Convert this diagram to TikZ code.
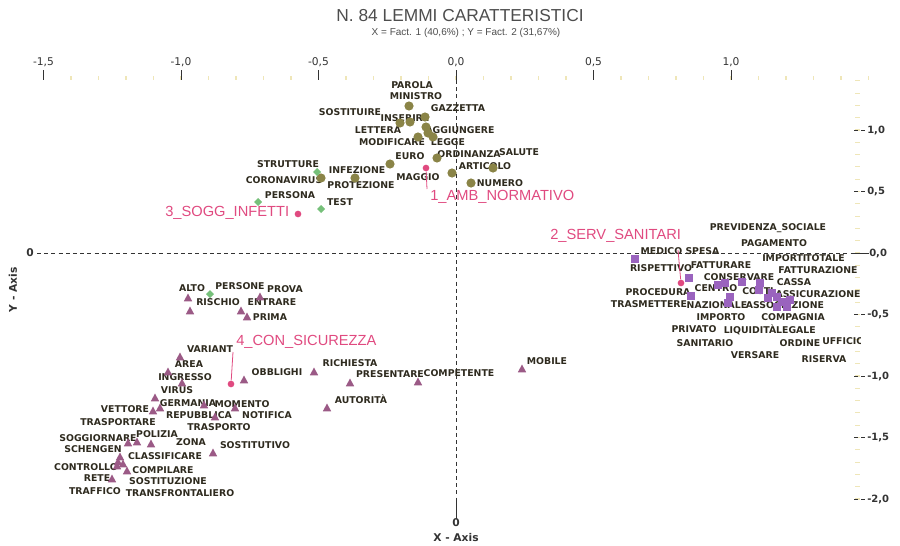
\documentclass[tikz,border=0pt]{standalone}
\usepackage{fontspec}
\setmainfont{DejaVu Sans}
\newfontfamily\dvsans{DejaVu Sans}
\newfontfamily\lsans{Liberation Sans}
\definecolor{olivec}{HTML}{8A8447}
\definecolor{tric}{HTML}{9B5A86}
\definecolor{sqc}{HTML}{9A63BE}
\definecolor{dmc}{HTML}{76C07A}
\definecolor{pinkc}{HTML}{E04A80}
\definecolor{labcol}{HTML}{2E2A1E}
\definecolor{axcol}{HTML}{333333}
\definecolor{minorc}{HTML}{EFE6B8}
\definecolor{titlec}{HTML}{4D4D4D}
\tikzset{
  lab/.style={font=\dvsans\bfseries\fontsize{7}{8}\selectfont, text=labcol, inner sep=0pt},
  clu/.style={font=\lsans\fontsize{11}{12}\selectfont, text=pinkc, inner sep=0pt, anchor=west},
  axnum/.style={font=\dvsans\fontsize{8}{9}\selectfont, text=axcol, inner sep=0pt},
  axnumr/.style={font=\dvsans\bfseries\fontsize{7.5}{9}\selectfont, text=axcol, inner sep=0pt, anchor=west},
  axname/.style={font=\dvsans\bfseries\fontsize{8}{9}\selectfont, text=axcol, inner sep=0pt},
  guide/.style={axcol, line width=0.6pt, dash pattern=on 3pt off 2.4pt},
  link/.style={pinkc, line width=0.6pt},
}
\begin{document}
\begin{tikzpicture}[x=0.75pt,y=-0.75pt]
\useasboundingbox (0,0) rectangle (900,546);

% title block
\node[font=\lsans\fontsize{13}{15}\selectfont, text=titlec, inner sep=0pt] (title) at (460,16) {N. 84 LEMMI CARATTERISTICI};
\node[font=\lsans\fontsize{7.5}{9}\selectfont, text=titlec, inner sep=0pt] (subtitle) at (466,33) {X = Fact. 1 (40,6\%) ; Y = Fact. 2 (31,67\%)};

% top scale: minor ticks every 0.1, major every 0.5
\foreach \k in {-15,...,15} \draw[minorc, line width=0.8pt] ({456+\k*27.5},76) -- ({456+\k*27.5},80);
\foreach \v/\t in {-1.5/{-1,5},-1/{-1,0},-0.5/{-0,5},0/{0,0},0.5/{0,5},1/{1,0}} {
  \draw[axcol, line width=0.6pt] ({456+\v*275},70) -- ({456+\v*275},80);
  \node[axnum] at ({456+\v*275},62) {\t};
}

% right scale
\foreach \k in {-20,...,14} \draw[minorc, line width=0.8pt] (855,{253-\k*12.3}) -- (860,{253-\k*12.3});
\foreach \v/\t in {1/{1,0},0.5/{0,5},-0.5/{-0,5},-1/{-1,0},-1.5/{-1,5},-2/{-2,0}} {
  \draw[guide] (854,{253-\v*123}) -- (866,{253-\v*123});
  \node[axnumr] at (867,{253-\v*123}) {\t};
}
\node[axnumr] (rzero) at (869,253) {0,0};

% origin guides
\node[axname, font=\dvsans\bfseries\fontsize{8}{9}\selectfont] (yzero) at (30,253) {0};
\node[axname] (xzero) at (456,523) {0};
\node[axname] (xaxis) at (456,538) {X - Axis};
\node[axname, rotate=90] (yaxis) at (13,290) {Y - Axis};
\draw[guide] (yzero.east) ++(3,0) -- (852,253);
\draw[axcol, line width=0.6pt] (852,253) -- (rzero.west);
\draw[guide] (456,80) -- (456,502);
\draw[axcol, line width=0.6pt] (456,502) -- (xzero.north);

% ---- labels: normative lemmas
\node[lab] (parola) at (412,85) {PAROLA};
\node[lab] (ministro) at (416,96) {MINISTRO};
\node[lab] (gazzetta) at (458,108) {GAZZETTA};
\node[lab] (sostituire) at (350,112) {SOSTITUIRE};
\node[lab] (inserire) at (405,118) {INSERIRE};
\node[lab] (lettera) at (378,130) {LETTERA};
\node[lab] (aggiungere) at (460,130) {AGGIUNGERE};
\node[lab] (modificare) at (392,142) {MODIFICARE};
\node[lab] (legge) at (448,142) {LEGGE};
\node[lab] (euro) at (410,156) {EURO};
\node[lab] (ordinanza) at (469,154) {ORDINANZA};
\node[lab] (salute) at (519,152) {SALUTE};
\node[lab] (articolo) at (485,166) {ARTICOLO};
\node[lab] (maggio) at (418,177) {MAGGIO};
\node[lab] (numero) at (500,183) {NUMERO};
\node[lab] (strutture) at (288,164) {STRUTTURE};
\node[lab] (infezione) at (357,170) {INFEZIONE};
\node[lab] (coronavirus) at (284,180) {CORONAVIRUS};
\node[lab] (protezione) at (361,185) {PROTEZIONE};
\node[lab] (persona) at (290,195) {PERSONA};
\node[lab] (test) at (340,202) {TEST};

% ---- labels: health services
\node[lab] (previdenza) at (768,228) {PREVIDENZA\_SOCIALE};
\node[lab] (pagamento) at (774,243) {PAGAMENTO};
\node[lab] (medico) at (680,251) {MEDICO SPESA};
\node[lab, anchor=west] (importi) at (762,258) {IMPORTI};
\node[lab, anchor=west] (totale) at (805,258) {TOTALE};
\node[lab] (rispettivo) at (661,268) {RISPETTIVO};
\node[lab] (fatturare) at (721,265) {FATTURARE};
\node[lab] (fatturazione) at (818,270) {FATTURAZIONE};
\node[lab] (conservare) at (739,277) {CONSERVARE};
\node[lab] (cassa) at (794,282) {CASSA};
\node[lab] (procedura) at (658,292) {PROCEDURA};
\node[lab] (centro) at (716,288) {CENTRO};
\node[lab] (costi) at (758,291) {COSTI};
\node[lab] (assicurazione) at (818,294) {ASSICURAZIONE};
\node[lab] (trasmettere) at (649,304) {TRASMETTERE};
\node[lab] (nazionale) at (717,305) {NAZIONALE};
\node[lab] (associazione) at (785,305) {ASSOCIAZIONE};
\node[lab] (importo) at (721,317) {IMPORTO};
\node[lab] (compagnia) at (793,317) {COMPAGNIA};
\node[lab] (privato) at (694,329) {PRIVATO};
\node[lab] (liquidita) at (750,330) {LIQUIDITÀ};
\node[lab] (legale) at (796,330) {LEGALE};
\node[lab] (sanitario) at (705,343) {SANITARIO};
\node[lab] (ordine) at (800,343) {ORDINE};
\begin{scope}
  \clip (815,330) rectangle (860,352);
  \node[lab, anchor=west] (ufficio) at (822,341) {UFFICIO};
\end{scope}
\node[lab] (versare) at (755,355) {VERSARE};
\node[lab] (riserva) at (824,359) {RISERVA};
\node[lab] (mobile) at (547,361) {MOBILE};

% ---- labels: safety and controls
\node[lab] (alto) at (192,288) {ALTO};
\node[lab] (persone) at (240,286) {PERSONE};
\node[lab] (prova) at (285,289) {PROVA};
\node[lab] (rischio) at (218,302) {RISCHIO};
\node[lab] (entrare) at (272,302) {ENTRARE};
\node[lab] (prima) at (270,317) {PRIMA};
\node[lab] (variant) at (210,349) {VARIANT};
\node[lab] (area) at (189,364) {AREA};
\node[lab] (richiesta) at (350,363) {RICHIESTA};
\node[lab] (obblighi) at (277,372) {OBBLIGHI};
\node[lab] (presentare) at (390,374) {PRESENTARE};
\node[lab] (competente) at (459,373) {COMPETENTE};
\node[lab] (ingresso) at (185,377) {INGRESSO};
\node[lab] (virus) at (177,390) {VIRUS};
\node[lab] (autorita) at (361,399) {AUTORITÀ};
\node[lab] (germania) at (188,403) {GERMANIA};
\node[lab] (momento) at (242,404) {MOMENTO};
\node[lab] (vettore) at (125,409) {VETTORE};
\node[lab] (repubblica) at (199,415) {REPUBBLICA};
\node[lab] (notifica) at (267,415) {NOTIFICA};
\node[lab] (trasportare) at (118,422) {TRASPORTARE};
\node[lab] (trasporto) at (219,427) {TRASPORTO};
\node[lab] (polizia) at (157,434) {POLIZIA};
\node[lab] (soggiornare) at (98,438) {SOGGIORNARE};
\node[lab] (zona) at (191,442) {ZONA};
\node[lab] (sostitutivo) at (255,445) {SOSTITUTIVO};
\node[lab] (schengen) at (93,449) {SCHENGEN};
\node[lab] (classificare) at (165,456) {CLASSIFICARE};
\node[lab] (controllo) at (86,467) {CONTROLLO};
\node[lab] (compilare) at (163,470) {COMPILARE};
\node[lab] (rete) at (97,478) {RETE};
\node[lab] (sostituzione) at (168,481) {SOSTITUZIONE};
\node[lab] (traffico) at (95,491) {TRAFFICO};
\node[lab] (transfrontaliero) at (180,493) {TRANSFRONTALIERO};

% ---- markers
\foreach \p in {(409,106),(400,123),(410,122),(425,117),(426,127),(418,137),(428,133),(433,137),
                (390,164),(437,158),(452,173),(493,168),(471,183),(355,178),(321,178)}
  \fill[olivec] \p circle[radius=4.6];
\foreach \p in {(317,172),(258,202),(321,209),(210,294)}
  \fill[dmc] \p +(0,-4) -- +(4,0) -- +(0,4) -- +(-4,0) -- cycle;
\foreach \p in {(635,259),(689,278),(691,296),(718,285),(725,283),(730,297),(728,303),(742,282),
                (760,283),(759,290),(772,293),(777,297),(782,302),(790,300),(787,307),(768,298),(777,307)}
  \fill[sqc] \p +(-4.2,-4.2) rectangle +(4.2,4.2);
\foreach \p in {(188,298),(260,297),(190,311),(241,311),(247,317),(180,357),(168,372),(182,383),
                (244,380),(155,398),(204,405),(235,408),(153,411),(160,408),(215,417),(128,443),
                (137,442),(151,444),(213,453),(120,457),(118,462),(123,464),(117,466),(127,471),
                (112,479),(314,372),(350,383),(418,382),(522,369),(327,408)}
  \fill[tric] \p +(0,-4.5) -- +(4.2,3.3) -- +(-4.2,3.3) -- cycle;

% ---- cluster centroids and their names
\node[circle, fill=pinkc, inner sep=0pt, minimum size=5pt] (g1) at (426,168) {};
\node[circle, fill=pinkc, inner sep=0pt, minimum size=5pt] (g2) at (681,283) {};
\node[circle, fill=pinkc, inner sep=0pt, minimum size=5pt] (g3) at (298,214) {};
\node[circle, fill=pinkc, inner sep=0pt, minimum size=5pt] (g4) at (231,384) {};
\node[clu] (c1) at (430,197) {1\_AMB\_NORMATIVO};
\node[clu] (c2) at (550,236) {2\_SERV\_SANITARI};
\node[clu] (c3) at (165,213) {3\_SOGG\_INFETTI};
\node[clu] (c4) at (236,342) {4\_CON\_SICUREZZA};
\coordinate (e1) at (427,189);
\coordinate (e2) at (678,250);
\coordinate (e4) at (233,352);
\draw[link] (g1) -- (e1);
\draw[link] (g2) -- (e2);
\draw[link] (g4) -- (e4);
\end{tikzpicture}
\end{document}
